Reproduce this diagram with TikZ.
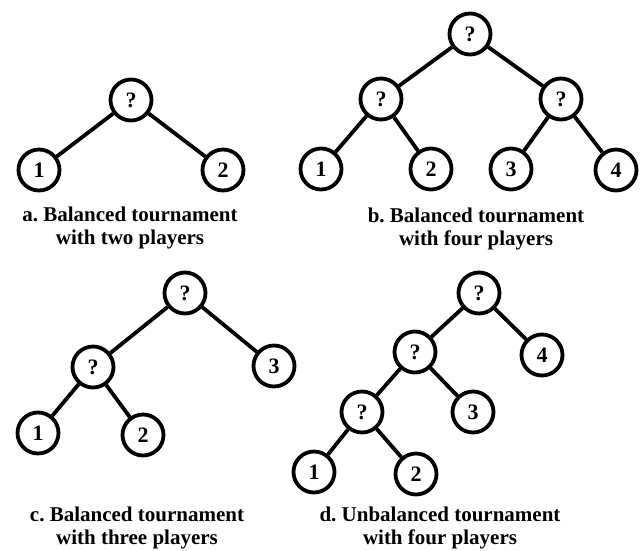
\documentclass[tikz,border=0pt]{standalone}
\usepackage{fontspec}
\setmainfont{Liberation Serif}
\newfontfamily\capfont{Liberation Serif}
\frenchspacing
\usetikzlibrary{positioning}

\begin{document}
\begin{tikzpicture}[x=1pt, y=-1pt,
  player/.style={draw, circle, line width=3.8pt, minimum size=41pt, inner sep=0pt, font=\capfont\bfseries\fontsize{22}{22}\selectfont},
  edge/.style={line width=3.8pt},
  caption/.style={font=\capfont\bfseries\fontsize{21}{23.5}\selectfont, align=center}
]
\useasboundingbox (0,0) rectangle (640,550);

% a. two players
\node[player] (a0) at (131,100) {?};
\node[player] (a1) at (39,170) {1};
\node[player] (a2) at (223,170) {2};
\draw[edge] (a0) -- (a1);
\draw[edge] (a0) -- (a2);
\node[caption] (capa) at (130,228) {a. Balanced tournament\\with two players};

% b. four players, balanced
\node[player] (b0) at (470,34) {?};
\node[player] (bl) at (381,99) {?};
\node[player] (br) at (561,99) {?};
\node[player] (b1) at (321,169) {1};
\node[player] (b2) at (431,169) {2};
\node[player] (b3) at (511,169) {3};
\node[player] (b4) at (616,170) {4};
\draw[edge] (b0) -- (bl);
\draw[edge] (b0) -- (br);
\draw[edge] (bl) -- (b1);
\draw[edge] (bl) -- (b2);
\draw[edge] (br) -- (b3);
\draw[edge] (br) -- (b4);
\node[caption] (capb) at (476,229) {b. Balanced tournament\\with four players};

% c. three players
\node[player] (c0) at (185,293) {?};
\node[player] (cl) at (93,367) {?};
\node[player] (c3) at (274,366) {3};
\node[player] (c1) at (38,433) {1};
\node[player] (c2) at (143,435) {2};
\draw[edge] (c0) -- (cl);
\draw[edge] (c0) -- (c3);
\draw[edge] (cl) -- (c1);
\draw[edge] (cl) -- (c2);
\node[caption] (capc) at (137,528) {c. Balanced tournament\\with three players};

% d. four players, unbalanced
\node[player] (d0) at (479,293) {?};
\node[player] (dl) at (415,352) {?};
\node[player] (d4) at (542,355) {4};
\node[player] (dll) at (362,412) {?};
\node[player] (d3) at (473,412) {3};
\node[player] (d1) at (314,472) {1};
\node[player] (d2) at (416,474) {2};
\draw[edge] (d0) -- (dl);
\draw[edge] (d0) -- (d4);
\draw[edge] (dl) -- (dll);
\draw[edge] (dl) -- (d3);
\draw[edge] (dll) -- (d1);
\draw[edge] (dll) -- (d2);
\node[caption] (capd) at (440,528) {d. Unbalanced tournament\\with four players};

\end{tikzpicture}
\end{document}
